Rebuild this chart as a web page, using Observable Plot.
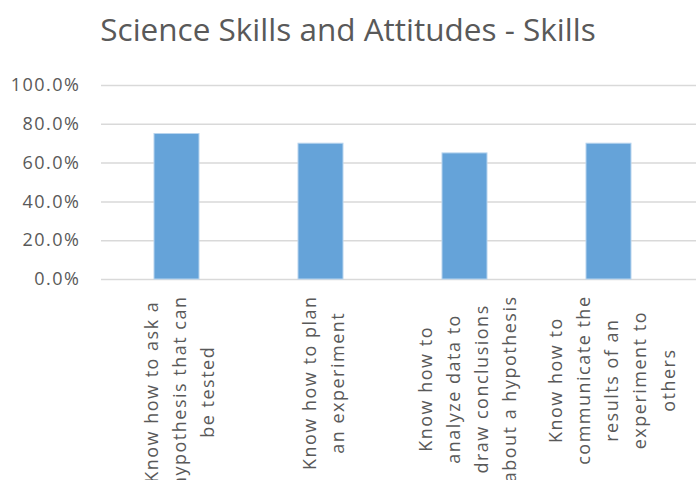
<!DOCTYPE html>
<html>
<head>
<meta charset="utf-8">
<script src="https://cdn.jsdelivr.net/npm/d3@7"></script>
<script src="https://cdn.jsdelivr.net/npm/@observablehq/plot@0.6"></script>
<style>
  body { margin: 0; background: #fff; width: 696px; height: 480px; overflow: hidden; }
  #title { position: relative; height: 60px; }
  #title span { position: absolute; left: 0; width: 696px; top: 14px; text-align: center;
    font-family: "Open Sans", sans-serif; font-size: 31.5px; line-height: 30px; color: #595959; }
  svg text { letter-spacing: 1.5px; }
</style>
</head>
<body>
<div id="title"><span>Science Skills and Attitudes - Skills</span></div>
<div id="chart"></div>
<script>
const categories = [
  "Know how to ask a hypothesis that can be tested",
  "Know how to plan an experiment",
  "Know how to analyze data to draw conclusions about a hypothesis",
  "Know how to communicate the results of an experiment to others"
];
const labelLines = [
  ["Know how to ask a", "hypothesis that can", "be tested"],
  ["Know how to plan", "an experiment"],
  ["Know how to", "analyze data to", "draw conclusions", "about a hypothesis"],
  ["Know how to", "communicate the", "results of an", "experiment to", "others"]
];
const values = [0.75, 0.70, 0.65, 0.70];
const yTicks = [0, 0.2, 0.4, 0.6, 0.8, 1.0];

const data = categories.map((c, i) => ({cat: c, value: values[i]}));

const FONT = "18px 'Open Sans'";
const canvas = document.createElement("canvas");
const ctx = canvas.getContext("2d");
ctx.font = FONT;
ctx.letterSpacing = "1.5px";
const longest = labelLines.map(lines => d3.max(lines, l => ctx.measureText(l).width));

const height = 420, marginTop = 25, marginBottom = 201;
const plotBottom = height - marginBottom;
const labelTop = 235; // svg y where label block starts

const labelMarks = categories.map((c, i) =>
  Plot.text([c], {
    x: d => d,
    frameAnchor: "bottom",
    text: () => labelLines[i].join("\n"),
    rotate: -90,
    textAnchor: "middle",
    lineAnchor: "middle",
    lineHeight: 1.57,
    dy: (labelTop - plotBottom) + longest[i] / 2,
    fill: "#595959",
    fontSize: 18
  })
);

const chart = Plot.plot({
  width: 696,
  height,
  marginTop,
  marginBottom,
  marginLeft: 101,
  marginRight: 0,
  style: { fontFamily: "'Open Sans', sans-serif", fontSize: "18px", color: "#595959", background: "#fff" },
  x: { domain: categories, range: [104, 681], paddingInner: 0.688, paddingOuter: 0.344, align: 0.5, axis: null },
  y: { domain: [0, 1], ticks: yTicks, tickFormat: d3.format(".1%"), tickSize: 0, tickPadding: 21, label: null },
  marks: [
    Plot.ruleY(yTicks, { stroke: "#d9d9d9", strokeWidth: 1.5 }),
    Plot.barY(data, { x: "cat", y: "value", fill: "#65a3d9", stroke: "#b8d4ee", strokeWidth: 1 }),
    ...labelMarks
  ]
});
document.getElementById("chart").appendChild(chart);
</script>
</body>
</html>
